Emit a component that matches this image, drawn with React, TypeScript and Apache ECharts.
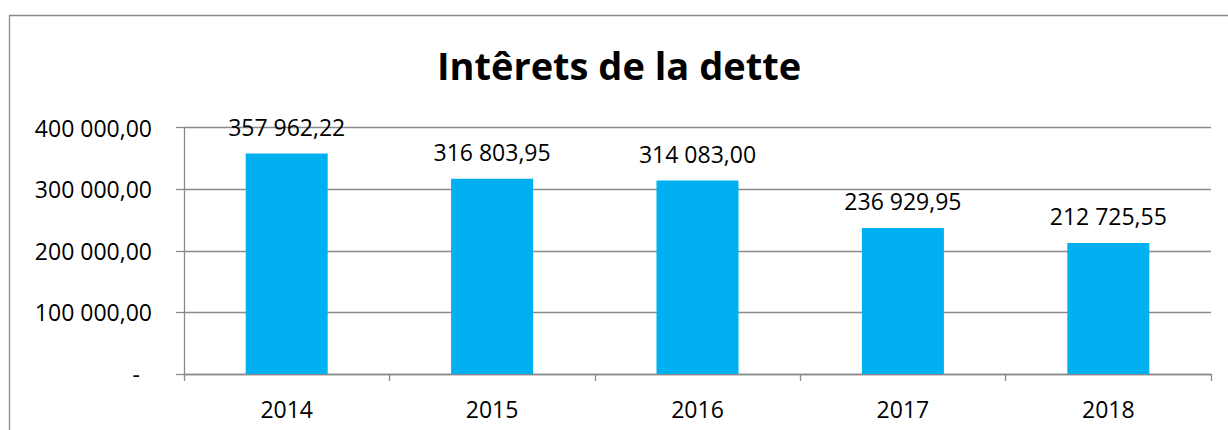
import React, { useEffect, useRef } from "react";
import * as echarts from "echarts";

const categories = ["2014", "2015", "2016", "2017", "2018"];
const interets = [357962.22, 316803.95, 314083.0, 236929.95, 212725.55];
const titleText = "Intêrets de la dette";

const FONT = "'Open Sans', 'Liberation Sans', sans-serif";

function frNumber(v: number): string {
  const [int, dec] = Math.abs(v).toFixed(2).split(".");
  const grouped = int.replace(/\B(?=(\d{3})+(?!\d))/g, " ");
  return (v < 0 ? "-" : "") + grouped + "," + dec;
}

export default function App() {
  const ref = useRef<HTMLDivElement>(null);
  useEffect(() => {
    if (!ref.current) return;
    const chart = echarts.init(ref.current, undefined, { renderer: "svg" });
    const gray = "#8a8a8a";
    chart.setOption({
      animation: false,
      backgroundColor: "#ffffff",
      title: {
        text: titleText,
        left: 614,
        textAlign: "center",
        top: 41,
        textStyle: {
          fontFamily: FONT,
          fontWeight: "bold",
          fontSize: 38,
          color: "#000000",
        },
      },
      graphic: [
        {
          type: "rect",
          shape: { x: 9.5, y: 15.5, width: 1400, height: 600 },
          style: { fill: "none", stroke: gray, lineWidth: 1.3 },
          silent: true,
          z: -1,
        },
      ],
      grid: { left: 184, right: 17, top: 127.5, bottom: 56, containLabel: false },
      xAxis: {
        type: "category",
        data: categories,
        axisLine: { show: true, lineStyle: { color: gray, width: 1.3 } },
        axisTick: { show: true, length: 7, alignWithLabel: false, lineStyle: { color: gray, width: 1.3 } },
        axisLabel: {
          margin: 23,
          fontFamily: FONT,
          fontSize: 23,
          lineHeight: 23,
          color: "#000000",
        },
      },
      yAxis: {
        type: "value",
        min: 0,
        max: 400000,
        interval: 100000,
        axisLine: { show: true, lineStyle: { color: gray, width: 1.3 } },
        axisTick: { show: true, length: 8, lineStyle: { color: gray, width: 1.3 } },
        splitLine: { show: true, lineStyle: { color: gray, width: 1.3 } },
        axisLabel: {
          margin: 32,
          fontFamily: FONT,
          fontSize: 23,
          lineHeight: 23,
          color: "#000000",
          formatter: (v: number) => (v === 0 ? "{d|-}" : frNumber(v)),
          rich: {
            d: { fontFamily: FONT, fontSize: 23, color: "#000000", padding: [0, 12, 0, 0] },
          },
        },
      },
      series: [
        {
          type: "bar",
          data: interets,
          barWidth: 82,
          itemStyle: { color: "#00B0F0" },
          label: {
            show: true,
            position: "top",
            distance: 15,
            fontFamily: FONT,
            fontSize: 23,
            lineHeight: 23,
            color: "#000000",
            formatter: (p: any) => frNumber(p.value),
          },
        },
      ],
    });
    return () => chart.dispose();
  }, []);
  return (
    <div
      ref={ref}
      style={{ position: "fixed", left: 0, top: 0, width: 1228, height: 430 }}
    />
  );
}
